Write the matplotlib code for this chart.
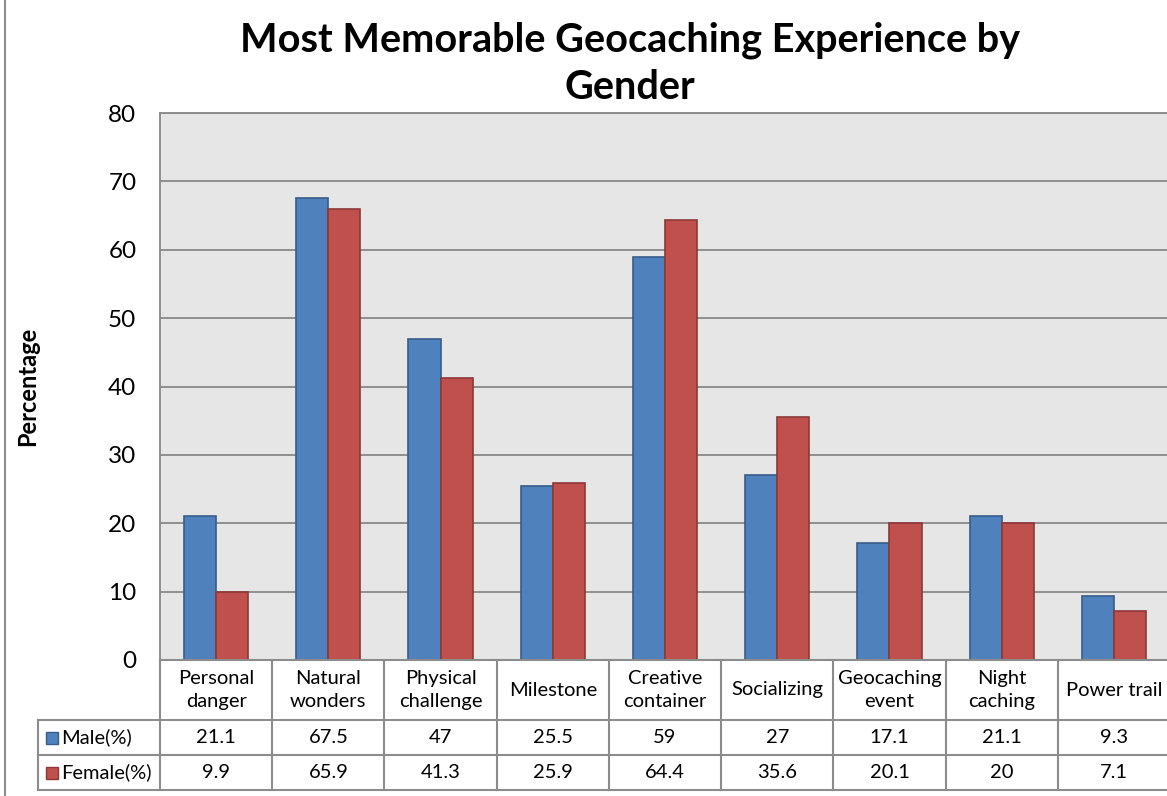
import matplotlib
matplotlib.use("Agg")
import matplotlib.pyplot as plt
import numpy as np
from matplotlib.transforms import blended_transform_factory
from matplotlib.patches import Rectangle
from matplotlib.lines import Line2D

categories = ["Personal\ndanger", "Natural\nwonders", "Physical\nchallenge", "Milestone",
              "Creative\ncontainer", "Socializing", "Geocaching\nevent", "Night\ncaching", "Power trail"]
male = [21.1, 67.5, 47, 25.5, 59, 27, 17.1, 21.1, 9.3]
female = [9.9, 65.9, 41.3, 25.9, 64.4, 35.6, 20.1, 20, 7.1]
male_labels = ["21.1", "67.5", "47", "25.5", "59", "27", "17.1", "21.1", "9.3"]
female_labels = ["9.9", "65.9", "41.3", "25.9", "64.4", "35.6", "20.1", "20", "7.1"]
series_names = ["Male(%)", "Female(%)"]

plt.rcParams['font.family'] = ['Lato', 'DejaVu Sans']

W, H = 1167, 796
fig = plt.figure(figsize=(W / 100, H / 100), dpi=100)

def fx(px):
    return px / W

def fy(py):
    return 1 - py / H

ax_left, ax_right, ax_top, ax_bottom = 160, 1170, 113, 660
ax = fig.add_axes([fx(ax_left), fy(ax_bottom), fx(ax_right - ax_left), (ax_bottom - ax_top) / H])
ax.set_facecolor("#E6E6E6")

blue, blue_edge = "#4F81BD", "#385D8A"
red, red_edge = "#C0504D", "#8C3836"
grid_c = "#888888"

x = np.arange(len(categories))
w = 0.286
ax.bar(x - w / 2, male, w, color=blue, edgecolor=blue_edge, linewidth=1.2, zorder=3)
ax.bar(x + w / 2, female, w, color=red, edgecolor=red_edge, linewidth=1.2, zorder=3)

ax.set_xlim(-0.5, len(categories) - 0.5)
ax.set_ylim(0, 80)
ax.set_yticks(np.arange(0, 81, 10))
ax.yaxis.grid(True, color=grid_c, linewidth=1.3, zorder=0)
ax.set_axisbelow(True)
ax.set_xticks([])
ax.tick_params(axis='y', length=0, pad=17, labelsize=17.5)
for s in ["right", "bottom"]:
    ax.spines[s].set_visible(False)
for s in ["left", "top"]:
    ax.spines[s].set_color(grid_c)
    ax.spines[s].set_linewidth(1.3)

ax.set_ylabel("Percentage", fontsize=17, fontweight="bold")
ax.yaxis.set_label_coords((39 - ax_left) / (ax_right - ax_left), 0.5)

fig.text(fx(630), fy(64), "Most Memorable Geocaching Experience by\nGender", ha="center", va="center",
         fontsize=28.5, fontweight="bold", linespacing=1.32)

# data table
tr = blended_transform_factory(ax.transData, fig.transFigure)
line_c = "#8C8C8C"
lw = 1.5
y_h0, y_h1, y_m1, y_f1 = 660, 720, 755, 790
ncat = len(categories)
fs = 14.5
fig.add_artist(Line2D([fx(ax_left), fx(ax_right)], [fy(y_h0), fy(y_h0)], color=line_c, lw=lw))
for yy in [y_h1, y_m1, y_f1]:
    fig.add_artist(Line2D([fx(38), fx(ax_right)], [fy(yy), fy(yy)], color=line_c, lw=lw))
for i in range(ncat + 1):
    ax.add_line(Line2D([i - 0.5, i - 0.5], [fy(y_h0), fy(y_f1)], transform=tr, color=line_c, lw=lw,
                       clip_on=False))
fig.add_artist(Line2D([fx(38), fx(38)], [fy(y_h1), fy(y_f1)], color=line_c, lw=lw))

for i, c in enumerate(categories):
    ax.text(i, fy((y_h0 + y_h1) / 2), c, transform=tr, ha="center", va="center", fontsize=fs,
            linespacing=1.45, clip_on=False)
    ax.text(i, fy((y_h1 + y_m1) / 2), male_labels[i], transform=tr, ha="center", va="center",
            fontsize=fs, clip_on=False)
    ax.text(i, fy((y_m1 + y_f1) / 2), female_labels[i], transform=tr, ha="center", va="center",
            fontsize=fs, clip_on=False)

for j, (name, col, ec) in enumerate(zip(series_names, [blue, red], [blue_edge, red_edge])):
    yc = (y_h1 + y_m1) / 2 if j == 0 else (y_m1 + y_f1) / 2
    fig.add_artist(Rectangle((fx(46), fy(yc + 6)), fx(12), 12 / H, facecolor=col, edgecolor=ec, lw=1.0))
    fig.text(fx(61), fy(yc), name, ha="left", va="center", fontsize=fs)

fig.add_artist(Line2D([fx(5), fx(5)], [0, 1], color="#8C8C8C", lw=1.5))

fig.savefig("out.png", dpi=100, facecolor="white")
